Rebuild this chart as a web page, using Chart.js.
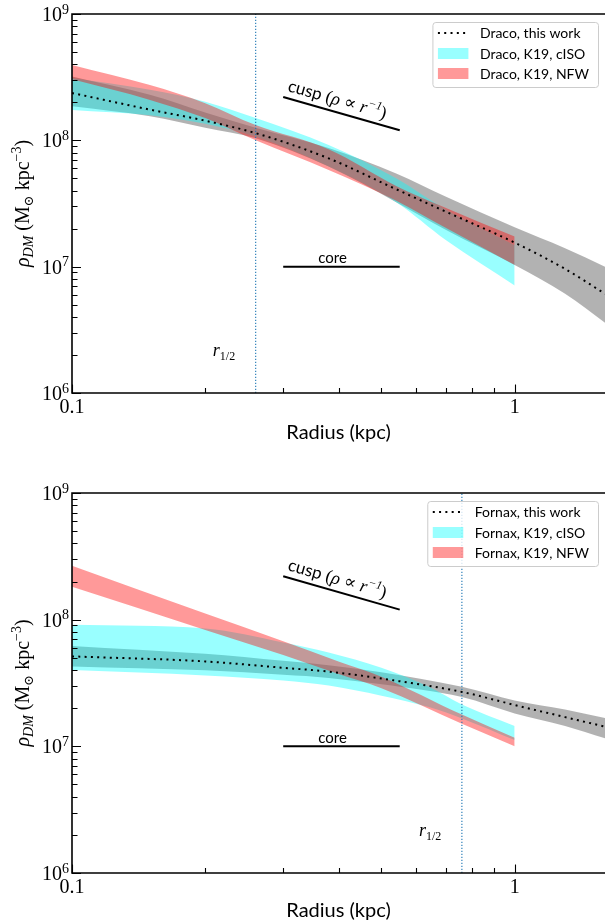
<!DOCTYPE html>
<html><head><meta charset="utf-8">
<script src="https://cdn.jsdelivr.net/npm/chart.js@4.4.0/dist/chart.umd.min.js"></script>
<style>
html,body{margin:0;padding:0;background:#fff;}
#wrap{position:relative;width:605px;height:923px;overflow:hidden;}
canvas{position:absolute;left:0;}
</style></head><body>
<div id="wrap">
<canvas id="c1" width="605" height="462" style="top:0"></canvas>
<canvas id="c2" width="605" height="461" style="top:462px"></canvas>
</div>
<script>
// ---------- axes ----------
const xMin = 0.1, xMax = 1.6;
const yMin = 1e6, yMax = 1e9;
const xTickValues = [0.1,0.2,0.3,0.4,0.5,0.6,0.7,0.8,0.9,1];
const xMajorTicks = [0.1, 1];
const xMajorLabels = ['0.1', '1'];
const yTickValues = [1e6,2e6,3e6,4e6,5e6,6e6,7e6,8e6,9e6,1e7,2e7,3e7,4e7,5e7,6e7,7e7,8e7,9e7,1e8,2e8,3e8,4e8,5e8,6e8,7e8,8e8,9e8,1e9];
const yMajorTicks = [1e6, 1e7, 1e8, 1e9];
const yMajorExponents = ['6', '7', '8', '9'];
const xTitle = 'Radius (kpc)';

// ---------- reference slopes ----------
const cuspR = [0.3, 0.55];
const cuspRho = [2.2e8, 1.2e8];
const coreR = [0.3, 0.55];
const coreRho = [1e7, 1e7];

// ---------- Draco ----------
const dracoLegend = ['Draco, this work', 'Draco, K19, cISO', 'Draco, K19, NFW'];
const dracoWorkR   = [0.1, 0.15, 0.2, 0.26, 0.38, 0.54, 0.7, 1.0, 1.3, 1.6];
const dracoWorkMed = [2.37e8, 1.75e8, 1.43e8, 1.14e8, 7.2e7, 4.1e7, 2.72e7, 1.55e7, 9.6e6, 6.1e6];
const dracoWorkHi  = [3.2e8, 2.29e8, 1.66e8, 1.26e8, 8.7e7, 5.46e7, 3.57e7, 2.05e7, 1.4e7, 1.0e7];
const dracoWorkLo  = [1.86e8, 1.55e8, 1.26e8, 1.04e8, 6.2e7, 3.24e7, 1.95e7, 1.03e7, 6.1e6, 3.6e6];
const dracoK19R    = [0.1, 0.15, 0.2, 0.26, 0.38, 0.54, 0.7, 1.0];
const dracoCisoHi  = [3.11e8, 2.51e8, 2.02e8, 1.50e8, 9.2e7, 5.0e7, 2.82e7, 1.48e7];
const dracoCisoLo  = [1.74e8, 1.58e8, 1.35e8, 1.07e8, 6.2e7, 3.24e7, 1.62e7, 7.1e6];
const dracoNfwHi   = [3.95e8, 2.74e8, 1.97e8, 1.32e8, 8.5e7, 4.36e7, 2.91e7, 1.73e7];
const dracoNfwLo   = [3.04e8, 2.09e8, 1.5e8, 1.0e8, 5.82e7, 3.33e7, 2.02e7, 1.03e7];
const dracoRHalf = 0.26;

// ---------- Fornax ----------
const fornaxLegend = ['Fornax, this work', 'Fornax, K19, cISO', 'Fornax, K19, NFW'];
const fornaxWorkR   = [0.1, 0.2, 0.3, 0.38, 0.5, 0.76, 1.0, 1.3, 1.6];
const fornaxWorkMed = [5.13e7, 4.68e7, 4.17e7, 3.89e7, 3.43e7, 2.69e7, 2.12e7, 1.70e7, 1.43e7];
const fornaxWorkHi  = [6.2e7, 5.37e7, 4.73e7, 4.37e7, 3.85e7, 2.95e7, 2.3e7, 1.95e7, 1.67e7];
const fornaxWorkLo  = [4.27e7, 3.98e7, 3.67e7, 3.47e7, 3.09e7, 2.45e7, 1.82e7, 1.45e7, 1.16e7];
const fornaxCisoR   = [0.1, 0.2, 0.3, 0.38, 0.5, 0.64, 0.76, 1.0];
const fornaxCisoHi  = [9.1e7, 8.5e7, 6.6e7, 5.5e7, 4.17e7, 2.95e7, 2.14e7, 1.45e7];
const fornaxCisoLo  = [4.0e7, 3.63e7, 3.31e7, 3.02e7, 2.51e7, 2.04e7, 1.66e7, 1.12e7];
const fornaxNfwR    = [0.1, 0.2, 0.3, 0.4, 0.5, 0.76, 1.0];
const fornaxNfwHi   = [2.67e8, 1.12e8, 6.76e7, 4.68e7, 3.55e7, 1.78e7, 1.17e7];
const fornaxNfwLo   = [1.82e8, 8.3e7, 5.25e7, 3.72e7, 2.88e7, 1.51e7, 1.0e7];
const fornaxRHalf = 0.76;

// ---------- styles ----------
const SERIF = '"Liberation Serif","DejaVu Serif",serif';
const SANS = 'Lato,"DejaVu Sans",sans-serif';
const GRAY = 'rgba(0,0,0,0.3)';
const CYAN = 'rgba(0,255,255,0.4)';
const RED = 'rgba(255,0,0,0.4)';
const DOTS = [2, 4.3];

function pts(rs, vs) { return rs.map((r, i) => ({x: r, y: vs[i]})); }

function band(label, rs, hi, lo, color, order) {
  return [
    {label: label, data: pts(rs, hi), fill: '+1', backgroundColor: color, borderColor: 'rgba(0,0,0,0)',
     borderWidth: 0, pointRadius: 0, cubicInterpolationMode: 'monotone', order: order},
    {label: label + ' lower', data: pts(rs, lo), fill: false, borderColor: 'rgba(0,0,0,0)',
     borderWidth: 0, pointRadius: 0, cubicInterpolationMode: 'monotone', order: order}
  ];
}

function richWidth(ctx, segs) {
  let w = 0;
  for (const s of segs) { ctx.font = s.f; w += ctx.measureText(s.t).width; }
  return w;
}
function drawRich(ctx, segs, x, y) {
  let cx = x;
  for (const s of segs) { ctx.font = s.f; ctx.fillText(s.t, cx, y + (s.dy || 0)); cx += ctx.measureText(s.t).width; }
}

function decor(spec) {
  return {
    id: 'decor',
    afterDraw(chart) {
      const ctx = chart.ctx, a = chart.chartArea, x = chart.scales.x, y = chart.scales.y;
      ctx.save();
      ctx.fillStyle = '#000';
      ctx.textAlign = 'left';
      ctx.textBaseline = 'alphabetic';

      // annotations: cusp / core text
      const c1x = x.getPixelForValue(cuspR[0]), c1y = y.getPixelForValue(cuspRho[0]);
      const c2x = x.getPixelForValue(cuspR[1]), c2y = y.getPixelForValue(cuspRho[1]);
      const ang = Math.atan2(c2y - c1y, c2x - c1x);
      ctx.save();
      ctx.translate(c1x, c1y);
      ctx.rotate(ang);
      drawRich(ctx, [
        {t: 'cusp ', f: '17px ' + SANS},
        {t: '(', f: '18px ' + SERIF},
        {t: 'ρ', f: 'italic 18px ' + SERIF},
        {t: ' ∝ ', f: '18px ' + SERIF},
        {t: 'r', f: 'italic 18px ' + SERIF},
        {t: '−1', f: 'italic 12px ' + SERIF, dy: -7},
        {t: ')', f: '18px ' + SERIF}
      ], 2, -7);
      ctx.restore();

      ctx.font = '15px ' + SANS;
      ctx.fillText('core', x.getPixelForValue(0.36), y.getPixelForValue(1.07e7));

      // r_1/2 label
      drawRich(ctx, [
        {t: 'r', f: 'italic 18px ' + SERIF},
        {t: '1/2', f: '12px ' + SERIF, dy: 4}
      ], x.getPixelForValue(spec.rHalf * 0.8), y.getPixelForValue(1.95e6));

      // spines
      ctx.strokeStyle = '#000';
      ctx.lineWidth = 1.6;
      ctx.beginPath();
      ctx.moveTo(a.left, a.top); ctx.lineTo(a.right + 2, a.top);
      ctx.moveTo(a.left, a.top - 0.8); ctx.lineTo(a.left, a.bottom + 0.8);
      ctx.moveTo(a.left, a.bottom); ctx.lineTo(a.right + 2, a.bottom);
      ctx.stroke();

      // ticks (inward)
      ctx.lineWidth = 1.1;
      ctx.beginPath();
      for (const v of yTickValues) {
        const py = Math.round(y.getPixelForValue(v)) + 0.5;
        const len = yMajorTicks.includes(v) ? 9 : 5.5;
        ctx.moveTo(a.left, py); ctx.lineTo(a.left + len, py);
      }
      for (const v of xTickValues) {
        const px = Math.round(x.getPixelForValue(v)) + 0.5;
        const len = xMajorTicks.includes(v) ? 8.5 : 5;
        ctx.moveTo(px, a.bottom); ctx.lineTo(px, a.bottom - len);
      }
      ctx.stroke();

      // y tick labels 10^n
      yMajorTicks.forEach((v, i) => {
        const py = y.getPixelForValue(v);
        ctx.font = '14px ' + SERIF;
        const ew = ctx.measureText(yMajorExponents[i]).width;
        ctx.font = '20px ' + SERIF;
        const bw = ctx.measureText('10').width;
        const right = a.left - 3;
        ctx.fillText('10', right - ew - bw, py + 7);
        ctx.font = '14px ' + SERIF;
        ctx.fillText(yMajorExponents[i], right - ew, py - 0.5);
      });
      // x tick labels
      ctx.textAlign = 'center';
      ctx.font = '20px ' + SERIF;
      xMajorTicks.forEach((v, i) => {
        ctx.fillText(xMajorLabels[i], x.getPixelForValue(v), a.bottom + 20);
      });
      // x title
      ctx.font = '20px ' + SANS;
      ctx.fillText(xTitle, (a.left + a.right) / 2, a.bottom + spec.xTitleOff);
      ctx.textAlign = 'left';

      // y title (rotated)
      const ysegs = [
        {t: 'ρ', f: 'italic 20px ' + SERIF},
        {t: 'DM', f: 'italic 14px ' + SERIF, dy: 4},
        {t: ' (M', f: '20px ' + SERIF},
        {t: '⊙', f: '13px ' + SERIF, dy: 4},
        {t: ' kpc', f: '20px ' + SERIF},
        {t: '−3', f: '14px ' + SERIF, dy: -8},
        {t: ')', f: '20px ' + SERIF}
      ];
      const tw = richWidth(ctx, ysegs);
      ctx.save();
      ctx.translate(29, (a.top + a.bottom) / 2);
      ctx.rotate(-Math.PI / 2);
      drawRich(ctx, ysegs, -tw / 2, 0);
      ctx.restore();

      // legend
      ctx.font = '14px ' + SANS;
      let mw = 0;
      for (const t of spec.legend) mw = Math.max(mw, ctx.measureText(t).width);
      const boxR = a.right - 7, boxW = 47.5 + mw + 9;
      const boxL = boxR - boxW, boxT = a.top + 8, boxH = 65;
      ctx.beginPath();
      ctx.roundRect(boxL + 0.5, boxT + 0.5, boxW, boxH, 3);
      ctx.fillStyle = 'rgba(255,255,255,0.8)';
      ctx.fill();
      ctx.strokeStyle = '#cccccc';
      ctx.lineWidth = 1;
      ctx.stroke();
      const rows = [a.top + 19, a.top + 39.5, a.top + 59.5];
      // dotted sample
      ctx.save();
      ctx.strokeStyle = '#000'; ctx.lineWidth = 2; ctx.setLineDash(DOTS);
      ctx.beginPath(); ctx.moveTo(boxL + 5.5, rows[0]); ctx.lineTo(boxL + 36, rows[0]); ctx.stroke();
      ctx.restore();
      ctx.fillStyle = CYAN; ctx.fillRect(boxL + 5.5, rows[1] - 5.5, 30.5, 11);
      ctx.fillStyle = RED; ctx.fillRect(boxL + 5.5, rows[2] - 5.5, 30.5, 11);
      ctx.fillStyle = '#000';
      ctx.font = '14px ' + SANS;
      spec.legend.forEach((t, i) => ctx.fillText(t, boxL + 47.5, rows[i] + 5));
      ctx.restore();
    }
  };
}

function makeChart(id, spec) {
  const datasets = [
    {label: spec.legend[0], data: pts(spec.workR, spec.workMed), borderColor: '#000', borderWidth: 2,
     borderDash: DOTS, pointRadius: 0, fill: false, cubicInterpolationMode: 'monotone', order: 0},
    {label: 'r1/2', data: [{x: spec.rHalf, y: yMin}, {x: spec.rHalf, y: yMax}], borderColor: '#1f77b4',
     borderWidth: 1.1, borderDash: [1.2, 1.8], pointRadius: 0, fill: false, order: 0},
    {label: 'cusp', data: pts(cuspR, cuspRho), borderColor: '#000', borderWidth: 2, pointRadius: 0, fill: false, order: 0},
    {label: 'core', data: pts(coreR, coreRho), borderColor: '#000', borderWidth: 2, pointRadius: 0, fill: false, order: 0},
    ...band(spec.legend[2], spec.nfwR, spec.nfwHi, spec.nfwLo, RED, 1),
    ...band(spec.legend[1], spec.cisoR, spec.cisoHi, spec.cisoLo, CYAN, 2),
    ...band(spec.legend[0] + ' band', spec.workR, spec.workHi, spec.workLo, GRAY, 3)
  ];
  return new Chart(document.getElementById(id), {
    type: 'line',
    data: {datasets: datasets},
    options: {
      responsive: false,
      animation: false,
      events: [],
      layout: {padding: spec.padding},
      scales: {
        x: {type: 'logarithmic', min: xMin, max: xMax, display: false},
        y: {type: 'logarithmic', min: yMin, max: yMax, display: false}
      },
      plugins: {legend: {display: false}, tooltip: {enabled: false}}
    },
    plugins: [decor(spec)]
  });
}

makeChart('c1', {
  legend: dracoLegend, workR: dracoWorkR, workMed: dracoWorkMed, workHi: dracoWorkHi, workLo: dracoWorkLo,
  cisoR: dracoK19R, cisoHi: dracoCisoHi, cisoLo: dracoCisoLo,
  nfwR: dracoK19R, nfwHi: dracoNfwHi, nfwLo: dracoNfwLo,
  rHalf: dracoRHalf, padding: {left: 72, top: 14, right: 0, bottom: 69}, xTitleOff: 46
});
makeChart('c2', {
  legend: fornaxLegend, workR: fornaxWorkR, workMed: fornaxWorkMed, workHi: fornaxWorkHi, workLo: fornaxWorkLo,
  cisoR: fornaxCisoR, cisoHi: fornaxCisoHi, cisoLo: fornaxCisoLo,
  nfwR: fornaxNfwR, nfwHi: fornaxNfwHi, nfwLo: fornaxNfwLo,
  rHalf: fornaxRHalf, padding: {left: 72, top: 31, right: 0, bottom: 50}, xTitleOff: 44
});
</script>
</body></html>
